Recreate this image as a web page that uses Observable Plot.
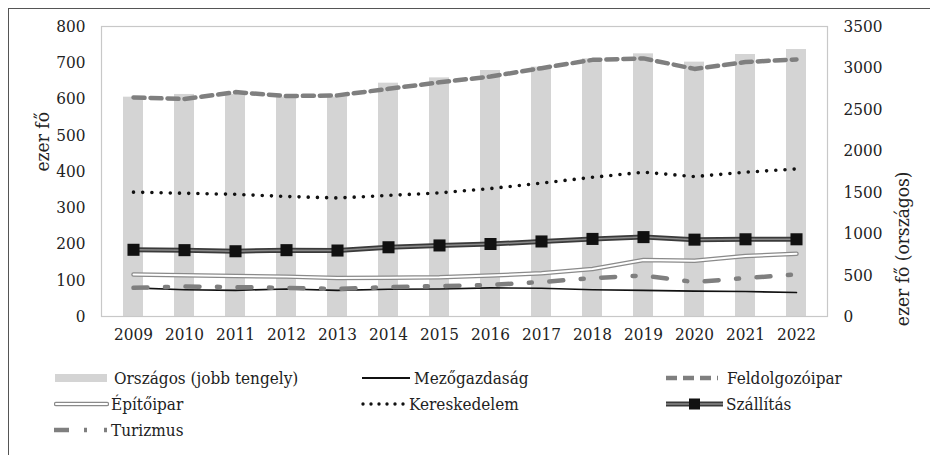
<!DOCTYPE html>
<html>
<head>
<meta charset="utf-8">
<script src="https://cdn.jsdelivr.net/npm/d3@7"></script>
<script src="https://cdn.jsdelivr.net/npm/@observablehq/plot@0.6"></script>
<style>
  html, body { margin: 0; padding: 0; background: #fff; }
  body { width: 930px; height: 458px; position: relative; overflow: hidden;
         font-family: "DejaVu Serif Condensed", "DejaVu Serif", serif; font-stretch: condensed; color: #222; }
  #border { position: absolute; left: 8px; top: 8px; width: 940px; height: 447px;
            border-left: 1.5px solid #555; border-top: 1.5px solid #555; box-sizing: border-box; }
  #chart { position: absolute; left: 0; top: 0; }
  #chart text { font-stretch: condensed; }
  #legend { position: absolute; left: 0; top: 0; width: 930px; height: 458px; }
  .item { position: absolute; display: flex; align-items: center; height: 24px; font-size: 17px; white-space: nowrap; }
  .item svg { display: block; }
</style>
</head>
<body>
<div id="border"></div>
<div id="chart"></div>
<div id="legend"></div>
<script>
// ---- data ----
const years = ["2009","2010","2011","2012","2013","2014","2015","2016","2017","2018","2019","2020","2021","2022"];
const orszagos       = [2647, 2680, 2680, 2647, 2650, 2816, 2880, 2969, 3010, 3110, 3170, 3070, 3162, 3222];
const mezogazdasag   = [79, 74, 72, 76, 72, 75, 76, 79, 78, 74, 72, 70, 69, 66];
const feldolgozoipar = [604, 600, 619, 608, 610, 628, 646, 662, 685, 708, 712, 683, 702, 709];
const epitoipar      = [116, 114, 112, 110, 106, 107, 108, 113, 119, 131, 156, 154, 167, 173];
const kereskedelem   = [343, 340, 337, 331, 327, 334, 341, 353, 368, 384, 398, 386, 398, 407];
const szallitas      = [184, 183, 180, 183, 182, 191, 196, 200, 207, 214, 219, 212, 213, 213];
const turizmus       = [79, 83, 81, 79, 76, 81, 84, 87, 95, 106, 113, 95, 106, 116];
const leftTicks  = [0, 100, 200, 300, 400, 500, 600, 700, 800];
const rightTicks = [0, 500, 1000, 1500, 2000, 2500, 3000, 3500];
const leftTitle = "ezer fő";
const rightTitle = "ezer fő (országos)";
const legendNames = ["Országos (jobb tengely)", "Mezőgazdaság", "Feldolgozóipar", "Építőipar", "Kereskedelem", "Szállítás", "Turizmus"];

const serif = "'DejaVu Serif Condensed', 'DejaVu Serif', serif";
// ratio between right axis (0–3500) and left axis (0–800)
const k = 800 / 3500;
const rows = years.map((year, i) => ({
  year,
  orszagos: orszagos[i] * k,
  mezo: mezogazdasag[i],
  feld: feldolgozoipar[i],
  epit: epitoipar[i],
  ker: kereskedelem[i],
  szall: szallitas[i],
  tur: turizmus[i]
}));

const chart = Plot.plot({
  width: 930,
  height: 350,
  marginLeft: 101,
  marginRight: 103,
  marginTop: 26,
  marginBottom: 34,
  style: { fontFamily: serif, fontSize: "17px", color: "#222", background: "transparent", overflow: "visible" },
  x: { type: "band", domain: years, paddingInner: 0.614, paddingOuter: 0.307 },
  y: { domain: [0, 800] },
  marks: [
    Plot.barY(rows, { x: "year", y: "orszagos", fill: "#d4d4d4" }),
    Plot.frame({ stroke: "#c8c8c8", strokeWidth: 1.2 }),
    Plot.line(rows, { x: "year", y: "mezo", stroke: "#111", strokeWidth: 1.6 }),
    Plot.line(rows, { x: "year", y: "feld", stroke: "#7f7f7f", strokeWidth: 4.5, strokeDasharray: "11,6" }),
    Plot.line(rows, { x: "year", y: "epit", stroke: "#8a8a8a", strokeWidth: 4.5 }),
    Plot.line(rows, { x: "year", y: "epit", stroke: "#fff", strokeWidth: 2 }),
    Plot.line(rows, { x: "year", y: "ker", stroke: "#111", strokeWidth: 3.6, strokeDasharray: "0,9.2", strokeLinecap: "round" }),
    Plot.line(rows, { x: "year", y: "szall", stroke: "#3a3a3a", strokeWidth: 5 }),
    Plot.line(rows, { x: "year", y: "szall", stroke: "#8a8a8a", strokeWidth: 1.5 }),
    Plot.dot(rows, { x: "year", y: "szall", symbol: "square", r: 6.8, fill: "#111", stroke: "none" }),
    Plot.line(rows, { x: "year", y: "tur", stroke: "#7f7f7f", strokeWidth: 4.5, strokeDasharray: "14,17.5,3,17.5" }),
    Plot.axisY({ ticks: leftTicks, tickSize: 0, tickPadding: 16, label: null, fontSize: 17, fontFamily: serif }),
    Plot.axisY({ anchor: "right", ticks: rightTicks.map(v => v * k), tickFormat: v => String(Math.round(v / k)), tickSize: 0, tickPadding: 16, label: null, fontSize: 17, fontFamily: serif }),
    Plot.axisX({ tickSize: 0, tickPadding: 11, label: null, fontSize: 17, fontFamily: serif }),
    Plot.text([leftTitle], { text: d => d, frameAnchor: "left", dx: -59, rotate: -90, fontSize: 19, fontFamily: serif, fill: "#222" }),
    Plot.text([rightTitle], { text: d => d, frameAnchor: "right", dx: 75, rotate: -90, fontSize: 19, fontFamily: serif, fill: "#222" })
  ]
});
document.getElementById("chart").appendChild(chart);

// ---- legend ----
const cols = [54, 360, 665];
const rowsY = [378, 404, 430];
const legend = d3.select("#legend");
const swatches = [
  { name: legendNames[0], col: 0, row: 0, w: 58, draw: g => g.append("rect").attr("x", 1).attr("y", 8).attr("width", 52).attr("height", 8).attr("fill", "#d4d4d4") },
  { name: legendNames[1], col: 1, row: 0, w: 52, draw: g => g.append("line").attr("x1", 2).attr("x2", 50).attr("y1", 12).attr("y2", 12).attr("stroke", "#111").attr("stroke-width", 1.8) },
  { name: legendNames[2], col: 2, row: 0, w: 60, draw: g => g.append("line").attr("x1", 1).attr("x2", 53).attr("y1", 12).attr("y2", 12).attr("stroke", "#7f7f7f").attr("stroke-width", 4.5).attr("stroke-dasharray", "11,6") },
  { name: legendNames[3], col: 0, row: 1, w: 55, draw: g => { g.append("line").attr("x1", 2).attr("x2", 53).attr("y1", 12).attr("y2", 12).attr("stroke", "#8a8a8a").attr("stroke-width", 4.5).attr("stroke-linecap", "round"); g.append("line").attr("x1", 2).attr("x2", 53).attr("y1", 12).attr("y2", 12).attr("stroke", "#fff").attr("stroke-width", 2).attr("stroke-linecap", "round"); } },
  { name: legendNames[4], col: 1, row: 1, w: 47, draw: g => g.append("line").attr("x1", 3).attr("x2", 44).attr("y1", 12).attr("y2", 12).attr("stroke", "#111").attr("stroke-width", 3.4).attr("stroke-dasharray", "0,8").attr("stroke-linecap", "round") },
  { name: legendNames[5], col: 2, row: 1, w: 59, draw: g => { g.append("line").attr("x1", 1).attr("x2", 58).attr("y1", 12).attr("y2", 12).attr("stroke", "#3a3a3a").attr("stroke-width", 5); g.append("line").attr("x1", 1).attr("x2", 58).attr("y1", 12).attr("y2", 12).attr("stroke", "#8a8a8a").attr("stroke-width", 1.5); g.append("rect").attr("x", 24).attr("y", 6.5).attr("width", 11).attr("height", 11).attr("fill", "#111"); } },
  { name: legendNames[6], col: 0, row: 2, w: 55, draw: g => g.append("line").attr("x1", 0).attr("x2", 55).attr("y1", 12).attr("y2", 12).attr("stroke", "#7f7f7f").attr("stroke-width", 4.5).attr("stroke-dasharray", "15,15,3,17,3,20") }
];
swatches.forEach(s => {
  const item = legend.append("div").attr("class", "item")
    .style("left", cols[s.col] + "px")
    .style("top", (rowsY[s.row] - 12) + "px");
  const svg = item.append("svg").attr("width", s.w).attr("height", 24);
  s.draw(svg.append("g"));
  item.append("span").style("margin-left", "2px").text(s.name);
});
</script>
</body>
</html>
